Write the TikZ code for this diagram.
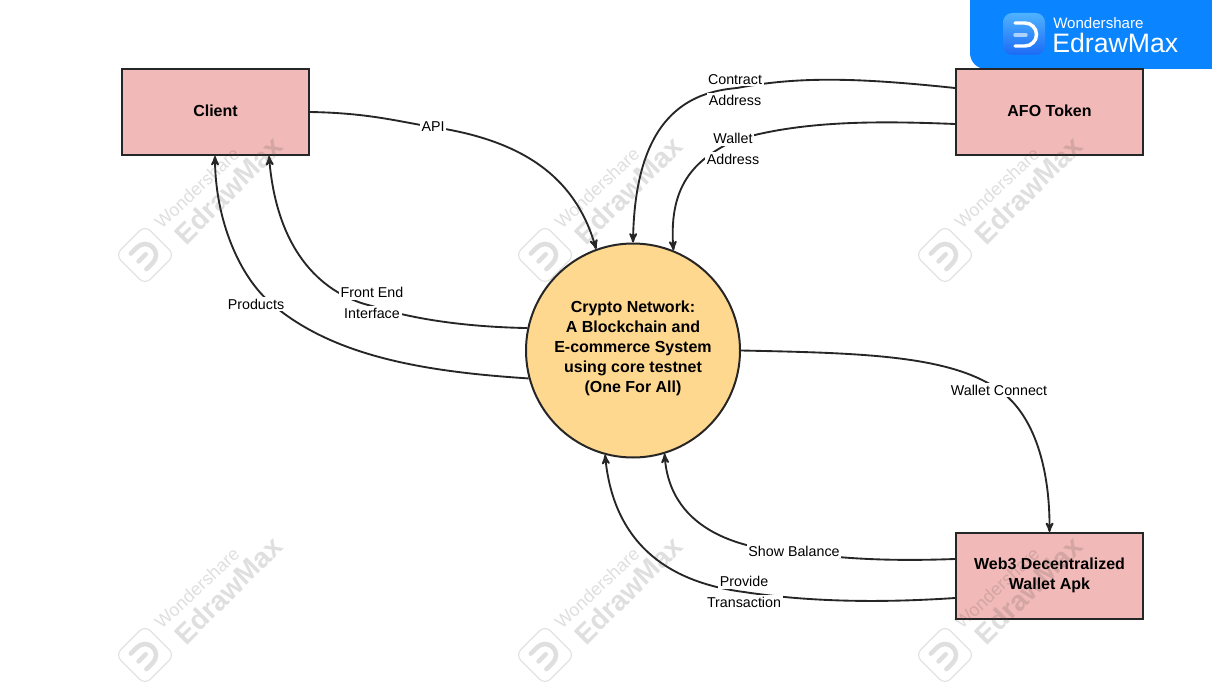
\documentclass[tikz,border=0pt]{standalone}
\usepackage{fontspec}
\setmainfont{Liberation Sans}
\usepackage{tikz}
\usetikzlibrary{shapes}
\usetikzlibrary{arrows}

\definecolor{boxpink}{HTML}{F1B9B7}
\definecolor{hubyellow}{HTML}{FFD88F}
\definecolor{linedark}{HTML}{262626}
\definecolor{badgeblue}{HTML}{0A84FF}
\definecolor{icontop}{HTML}{4FB2FF}
\definecolor{iconbottom}{HTML}{1C6BF5}

\setlength{\fboxsep}{1.4pt}
\newcommand{\masked}[1]{\colorbox{white}{#1}}

\begin{document}
\begin{tikzpicture}[x=0.75pt,y=-0.75pt,>=stealth',
                    flow/.style={->,line width=1.4pt,color=linedark},
                    box node/.style={rectangle,draw=linedark,line width=1.5pt,fill=boxpink,minimum width=140.25pt,minimum height=64.5pt,inner sep=0pt,align=center,font=\bfseries\fontsize{12}{15}\selectfont},
                    hub node/.style={circle,draw=linedark,line width=1.5pt,fill=hubyellow,minimum size=160.5pt,inner sep=0pt,align=center,font=\bfseries\fontsize{12}{15}\selectfont},
                    flow label/.style={inner sep=0pt,align=center,text=black,font=\fontsize{10.7}{15.75}\selectfont}]

		\useasboundingbox (0,0) rectangle (1212,688);

		% badge
		\fill[badgeblue,rounded corners=12pt] (970,-30) rectangle (1240,69);
		\shade[top color=icontop,bottom color=iconbottom,rounded corners=7pt] (1003,13) rectangle (1045,55);
		\draw[white,line width=2.6pt,line cap=round] (1015,23) -- (1025,23) arc[start angle=-90,end angle=90,radius=11.5] -- (1015,46);
		\draw[white,opacity=.6,line width=2.6pt,line cap=round] (1015,35) -- (1026,35);
		\node[text=white,anchor=west,inner sep=0pt,font=\fontsize{11.3}{12}\selectfont] (badge1) at (1053,23) {Wondershare};
		\node[text=white,anchor=west,inner sep=0pt,font=\fontsize{20}{20}\selectfont] (badge2) at (1052,43) {EdrawMax};

		\node[box node] (client) at (215.5,112) {Client\\[-13pt]};
		\node[box node] (afo) at (1049.5,112) {AFO Token\\[-13pt]};
		\node[box node] (web3) at (1049.5,576) {Web3 Decentralized\\Wallet Apk\\[-11pt]};
		\node[hub node] (hub) at (633,350.5) {Crypto Network:\\A Blockchain and\\E-commerce System\\using core testnet\\(One For All)\\[-9pt]};

		\coordinate (afo1) at (afo.west |- 0,88);
		\coordinate (afo2) at (afo.west |- 0,124);
		\coordinate (web1) at (web3.west |- 0,559);
		\coordinate (web2) at (web3.west |- 0,598);
		\coordinate (client1) at (client.south -| 269,0);
		\coordinate (client2) at (client.south -| 215,0);

		\draw[flow] (client.east) .. controls (370,113) and (400,122) .. (433,127)
			node[flow label] (apilabel) {\masked{API}}
			.. controls (520,140) and (575,175) .. (hub.110);
		\draw[flow] (afo1) .. controls (860,78) and (800,76) .. (737,88)
			node[flow label,xshift=-1.5pt,yshift=-1.5pt] (contractlabel) {\masked{Contract}\\\masked{Address}}
			.. controls (690,92) and (635,115) .. (hub.90.5);
		\draw[flow] (afo2) .. controls (880,121) and (800,120) .. (733,141)
			node[flow label,yshift=-6pt] (walletlabel) {\masked{Wallet}\\\masked{Address}}
			.. controls (700,158) and (668,180) .. (hub.68);
		\draw[flow] (hub.168) .. controls (470,327) and (415,320) .. (372,306)
			node[flow label,yshift=2.25pt] (frontlabel) {\masked{Front End}\\\masked{Interface}}
			.. controls (325,295) and (277,255) .. (client1);
		\draw[flow] (hub.195) .. controls (430,372) and (335,358) .. (272,304)
			node[flow label,xshift=-12pt] (productslabel) {\masked{Products}}
			.. controls (240,278) and (215,220) .. (client2);
		\draw[flow] (hub.east) .. controls (860,353) and (950,355) .. (999,390)
			node[flow label] (connectlabel) {\masked{Wallet Connect}}
			.. controls (1035,415) and (1050,470) .. (web3.north);
		\draw[flow] (web1) .. controls (900,561) and (850,560) .. (794,552)
			node[flow label,yshift=.75pt] (balancelabel) {\masked{Show Balance}}
			.. controls (750,550) and (670,535) .. (hub.-73);
		\draw[flow] (web2) .. controls (880,603) and (810,602) .. (744,592)
			node[flow label] (providelabel) {\masked{Provide}\\\masked{Transaction}}
			.. controls (690,585) and (615,560) .. (hub.-105);

		% watermarks
		\foreach \dx in {0,400,800}
			\foreach \dy in {0,400} {
				\begin{scope}[shift={(\dx,\dy)},opacity=.18,black!70]
					\node[rotate=43,inner sep=0pt,font=\fontsize{13.5}{14}\selectfont] (mark1\dx\dy) at (197,188) {Wondershare};
					\node[rotate=45,inner sep=0pt,font=\bfseries\fontsize{21}{22}\selectfont] (mark2\dx\dy) at (228,190) {EdrawMax};
					\begin{scope}[shift={(145,255)},rotate=45]
						\draw[line width=.8pt,rounded corners=6pt] (-21,-21) rectangle (21,21);
						\draw[line width=3.4pt,line cap=round] (-9,-11) -- (0,-11) arc[start angle=-90,end angle=90,radius=11] -- (-9,11);
						\draw[line width=3.4pt,line cap=round] (-9,0) -- (1,0);
					\end{scope}
				\end{scope}
			}
	\end{tikzpicture}
\end{document}
